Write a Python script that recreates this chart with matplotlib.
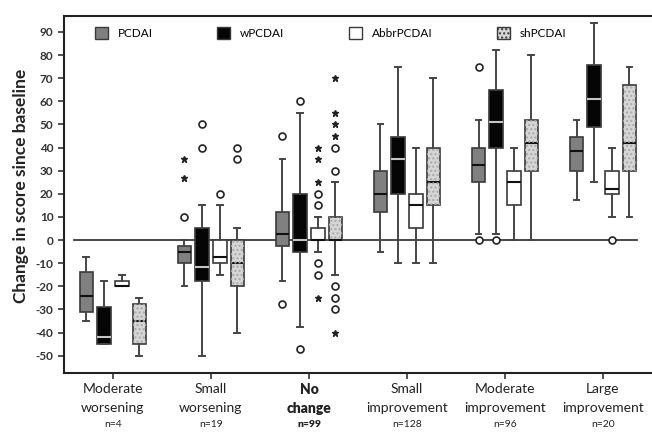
import numpy as np
import matplotlib
matplotlib.use('Agg')
import matplotlib.pyplot as plt
import matplotlib.patches as mpatches
import matplotlib.transforms as mtransforms

plt.rcParams['font.family'] = ['Lato', 'DejaVu Sans']

## values
groups = ['Moderate\nworsening', 'Small\nworsening', 'No\nchange',
          'Small\nimprovement', 'Moderate\nimprovement', 'Large\nimprovement']
n_labels = ['n=4', 'n=19', 'n=99', 'n=128', 'n=96', 'n=20']
series = ['PCDAI', 'wPCDAI', 'AbbrPCDAI', 'shPCDAI']

pcdai_lo = [-35, -20, -17.5, -5, 2.5, 17.5]
pcdai_q1 = [-31, -10, -2.5, 12, 25, 30]
pcdai_med = [-24, -5, 2.5, 20, 32.5, 38.5]
pcdai_q3 = [-14, -2.5, 12, 30, 40, 44.5]
pcdai_hi = [-7.5, 0, 35, 50, 52, 52]

wpcdai_lo = [-45, -50, -37.5, -10, 2.5, 25]
wpcdai_q1 = [-45, -17.5, -5, 20, 40, 49]
wpcdai_med = [-42, -11.5, 0, 35, 51, 61]
wpcdai_q3 = [-29, 5, 20, 44.5, 65, 75.5]
wpcdai_hi = [-17.5, 15, 55, 75, 82, 94]

abbr_lo = [-20, -15, -5, -10, 0, 10]
abbr_q1 = [-20, -10, 0, 5, 15, 20]
abbr_med = [-20, -7.5, 0, 15, 25, 22]
abbr_q3 = [-17.5, 0, 5, 20, 30, 30]
abbr_hi = [-15, 15, 10, 40, 40, 40]

sh_lo = [-50, -40, -15, -10, 0, 10]
sh_q1 = [-45, -20, 0, 15, 30, 30]
sh_med = [-35, -10, 0, 25, 42, 42]
sh_q3 = [-27.5, 0, 10, 40, 52, 67]
sh_hi = [-25, 5, 25, 70, 80, 75]

# outliers: (group index, value)
pcdai_circ = [(1, 10), (2, 45), (2, -27.5), (4, 75), (4, 0)]
pcdai_star = [(1, 27), (1, 35)]
wpcdai_circ = [(1, 40), (1, 50), (2, 60), (2, -47), (4, 0)]
wpcdai_star = []
abbr_circ = [(1, 20), (2, 20), (2, 15), (2, -10), (2, -15), (5, 0)]
abbr_star = [(2, 40), (2, 35), (2, 25), (2, -25)]
sh_circ = [(1, 35), (1, 40), (2, 40), (2, 30), (2, -20), (2, -25), (2, -30)]
sh_star = [(2, 70), (2, 55), (2, 50), (2, 45), (2, -40)]

yticks = list(range(-50, 100, 10))

stats_all = [
    (pcdai_lo, pcdai_q1, pcdai_med, pcdai_q3, pcdai_hi),
    (wpcdai_lo, wpcdai_q1, wpcdai_med, wpcdai_q3, wpcdai_hi),
    (abbr_lo, abbr_q1, abbr_med, abbr_q3, abbr_hi),
    (sh_lo, sh_q1, sh_med, sh_q3, sh_hi),
]
circ_all = [pcdai_circ, wpcdai_circ, abbr_circ, sh_circ]
star_all = [pcdai_star, wpcdai_star, abbr_star, sh_star]

face = ['#808080', '#050505', 'white', '#d6d6d6']
medc = ['#111111', '#c4c4c4', '#111111', '#111111']
offs = [-0.27, -0.09, 0.09, 0.27]
edge = '#3a3a3a'

fig = plt.figure(figsize=(6.52, 4.33), dpi=100)
ax = fig.add_axes([0.098, 0.1386, 0.902, 0.825])

x = np.arange(len(groups))
for k in range(4):
    lo, q1, med, q3, hi = stats_all[k]
    st = [dict(whislo=lo[i], q1=q1[i], med=med[i], q3=q3[i], whishi=hi[i], fliers=[])
          for i in range(len(groups))]
    bp = ax.bxp(st, positions=x + offs[k], widths=0.14, capwidths=0.06,
                patch_artist=True, showfliers=False, manage_ticks=False,
                boxprops=dict(facecolor=face[k], edgecolor=edge, linewidth=1.2),
                whiskerprops=dict(color='#454545', linewidth=1.4),
                capprops=dict(color='#454545', linewidth=1.4),
                medianprops=dict(color=medc[k], linewidth=1.5))
    if k == 3:
        for b in bp['boxes']:
            ax.add_patch(mpatches.PathPatch(b.get_path(), facecolor='none',
                                            edgecolor='#a8a8a8', hatch='....',
                                            lw=0, zorder=b.get_zorder() + 0.1))
    if circ_all[k]:
        cx = [i + offs[k] for i, v in circ_all[k]]
        cy = [v for i, v in circ_all[k]]
        ax.plot(cx, cy, 'o', ms=5, mfc='white', mec='#222222', mew=1.2, ls='none', zorder=5)
    if star_all[k]:
        sx = [i + offs[k] for i, v in star_all[k]]
        sy = [v for i, v in star_all[k]]
        ax.plot(sx, sy, '*', ms=5, color='#222222', ls='none', zorder=5)

# reference line at zero
ax.plot([-0.4, 5.35], [0, 0], color='#3a3a3a', lw=1.3, zorder=1)

ax.set_xlim(-0.5, 5.5)
ax.set_ylim(-57.5, 97)
ax.set_yticks(yticks)
ax.set_yticklabels([str(t) for t in yticks], fontsize=8.5, fontweight='bold', color='#333333')
ax.set_xticks(x)
ax.set_xticklabels([''] * len(groups))
ax.tick_params(axis='both', direction='out', length=4, width=1.2, color='#333333')
ax.spines['right'].set_visible(False)
for s in ['left', 'bottom', 'top']:
    ax.spines[s].set_linewidth(1.5)
    ax.spines[s].set_color('#222222')

trans = mtransforms.blended_transform_factory(ax.transData, fig.transFigure)
for i, g in enumerate(groups):
    w = 'heavy' if i == 2 else 'normal'
    l1, l2 = g.split('\n')
    ax.text(i, 0.1016, l1, transform=trans, ha='center', va='center', fontsize=10,
            fontweight=w, color='#222222')
    ax.text(i, 0.0577, l2, transform=trans, ha='center', va='center', fontsize=10,
            fontweight=w, color='#222222')
    ax.text(i, 0.0185, n_labels[i], transform=trans, ha='center', va='center', fontsize=7.5,
            fontweight=w, color='#222222')

fig.text(0.032, 0.57, 'Change in score since baseline', rotation=90, ha='center',
         va='center', fontsize=12.5, fontweight='bold', color='#222222')

handles = [mpatches.Patch(facecolor=face[k], edgecolor=edge, linewidth=1.0,
                          hatch='....' if k == 3 else None) for k in range(4)]
leg = ax.legend(handles, series, ncol=4, loc='center left', bbox_to_anchor=(0.035, 0.951),
                frameon=False, fontsize=8.5, handlelength=1.1, handleheight=1.1,
                handletextpad=0.8, columnspacing=5.5)

fig.savefig('out.png', dpi=100)
